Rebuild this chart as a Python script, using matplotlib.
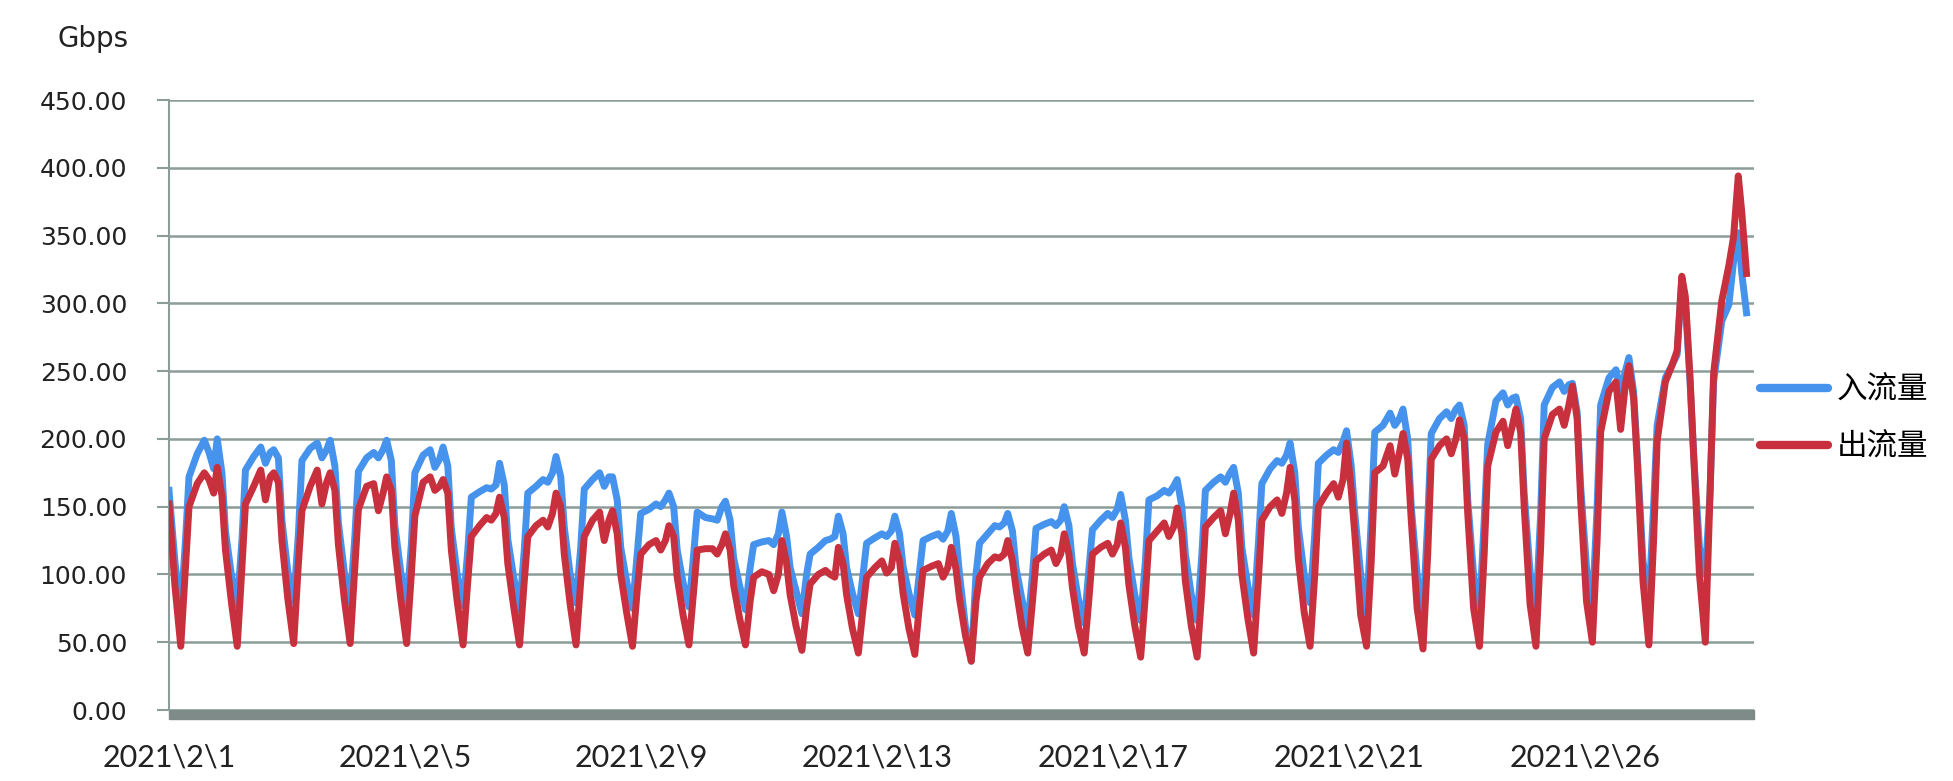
import numpy as np
import matplotlib.pyplot as plt
from matplotlib.lines import Line2D
from matplotlib.patches import Rectangle

# hours of day at which each reading was taken
HOURS = [0, 2.5, 5, 7, 8.5, 12, 15, 17, 19, 20.5, 22.5]

# 出流量 (out), one row per day, Feb 1 .. Feb 28
out_days = [
    [152, 92, 47, 105, 150, 167, 175, 170, 160, 179, 158],
    [118, 80, 47, 105, 152, 165, 177, 155, 172, 175, 168],
    [125, 82, 49, 108, 147, 165, 177, 152, 168, 175, 162],
    [122, 82, 49, 105, 148, 165, 167, 147, 160, 172, 162],
    [120, 82, 49, 100, 143, 168, 172, 162, 165, 170, 160],
    [118, 80, 48, 95, 128, 136, 142, 140, 145, 157, 142],
    [108, 76, 48, 95, 128, 136, 140, 135, 145, 160, 150],
    [115, 78, 48, 95, 128, 140, 146, 125, 140, 147, 130],
    [100, 72, 47, 88, 115, 122, 125, 118, 125, 136, 128],
    [98, 70, 48, 88, 118, 119, 119, 115, 122, 130, 118],
    [92, 68, 48, 80, 98, 102, 100, 88, 100, 125, 108],
    [85, 62, 44, 75, 93, 100, 103, 100, 98, 120, 108],
    [85, 60, 42, 75, 98, 105, 110, 101, 105, 123, 110],
    [86, 60, 41, 78, 103, 106, 108, 98, 105, 120, 104],
    [82, 55, 36, 80, 98, 108, 113, 112, 115, 125, 110],
    [90, 62, 42, 80, 110, 115, 118, 108, 115, 130, 115],
    [90, 62, 42, 82, 115, 120, 123, 115, 122, 138, 120],
    [92, 62, 39, 85, 125, 132, 138, 128, 135, 149, 130],
    [95, 62, 39, 88, 135, 142, 147, 130, 145, 160, 140],
    [100, 68, 42, 95, 140, 150, 155, 145, 160, 179, 155],
    [112, 72, 47, 100, 150, 160, 167, 157, 170, 197, 162],
    [130, 70, 47, 110, 175, 180, 195, 174, 190, 204, 185],
    [140, 75, 45, 115, 185, 195, 200, 189, 200, 214, 200],
    [145, 75, 47, 115, 180, 205, 213, 195, 210, 222, 205],
    [150, 78, 47, 120, 200, 218, 222, 210, 225, 239, 215],
    [155, 80, 50, 125, 205, 235, 242, 207, 240, 254, 230],
    [185, 95, 48, 125, 198, 242, 255, 265, 320, 305, 245],
    [189, 100, 50, 160, 248, 302, 328, 349, 394, 367, 322],
]

# 入流量 (in)
in_days = [
    [162, 110, 72, 125, 172, 189, 199, 190, 178, 200, 175],
    [132, 100, 77, 125, 177, 187, 194, 182, 190, 192, 186],
    [140, 102, 80, 130, 184, 193, 197, 186, 192, 199, 180],
    [138, 102, 79, 128, 176, 186, 190, 186, 192, 199, 184],
    [136, 102, 76, 122, 175, 188, 192, 179, 185, 194, 180],
    [134, 100, 77, 118, 157, 161, 164, 163, 166, 182, 166],
    [126, 98, 74, 118, 160, 165, 170, 168, 175, 187, 172],
    [135, 100, 79, 120, 163, 170, 175, 165, 172, 172, 155],
    [120, 95, 75, 115, 145, 148, 152, 150, 155, 160, 150],
    [118, 94, 76, 115, 146, 142, 141, 140, 150, 154, 140],
    [112, 92, 74, 105, 122, 124, 125, 122, 130, 146, 128],
    [105, 88, 71, 100, 115, 120, 125, 126, 128, 143, 130],
    [105, 86, 71, 100, 123, 127, 130, 128, 132, 143, 130],
    [106, 86, 70, 102, 125, 128, 130, 126, 132, 145, 128],
    [100, 62, 36, 100, 123, 130, 136, 135, 138, 145, 132],
    [105, 82, 61, 100, 134, 137, 139, 136, 140, 150, 136],
    [108, 82, 64, 104, 133, 140, 145, 142, 148, 159, 140],
    [112, 85, 66, 110, 155, 158, 162, 160, 165, 170, 150],
    [115, 85, 66, 115, 162, 168, 172, 168, 175, 179, 160],
    [120, 92, 70, 122, 167, 178, 184, 182, 188, 197, 175],
    [135, 100, 79, 130, 182, 188, 192, 190, 198, 206, 180],
    [145, 100, 70, 140, 205, 210, 219, 210, 215, 222, 200],
    [150, 100, 70, 140, 204, 215, 220, 215, 222, 225, 210],
    [155, 100, 70, 140, 196, 228, 234, 225, 230, 231, 215],
    [160, 102, 73, 145, 225, 238, 242, 235, 240, 241, 220],
    [165, 105, 76, 150, 225, 245, 251, 235, 250, 260, 235],
    [190, 110, 79, 150, 210, 245, 255, 262, 318, 300, 242],
    [189, 120, 100, 160, 242, 287, 299, 331, 352, 322, 293],
]

x_labels = ['2021\\2\\1', '2021\\2\\5', '2021\\2\\9', '2021\\2\\13',
            '2021\\2\\17', '2021\\2\\21', '2021\\2\\26']
label_step = 4.18  # days between category labels

BLUE = '#4593EC'
RED = '#C9303E'
GRID = '#8C9C98'

# time axis in days since Feb 1 00:00
t = np.concatenate([d + np.array(HOURS) / 24.0 for d in range(len(out_days))])
out_vals = np.concatenate(out_days)
in_vals = np.concatenate(in_days)

fig = plt.figure(figsize=(19.53, 7.81), dpi=100)
ax = fig.add_axes([169 / 1953, 71 / 781, 1585 / 1953, 610 / 781])

ax.plot(t, in_vals, color=BLUE, lw=5, solid_joinstyle='round', zorder=3)
ax.plot(t, out_vals, color=RED, lw=5, solid_joinstyle='round', zorder=4)

ax.set_xlim(0, 28.07)
ax.set_ylim(0, 450)
ax.set_yticks(np.arange(0, 451, 50))
ax.yaxis.set_major_formatter(plt.FormatStrFormatter('%.2f'))
ax.yaxis.grid(True, color=GRID, lw=1.8)
ax.set_axisbelow(True)

for s in ['top', 'right', 'bottom']:
    ax.spines[s].set_visible(False)
ax.spines['left'].set_color(GRID)
ax.spines['left'].set_linewidth(1.5)

ax.tick_params(axis='y', length=8.6, width=1.5, color=GRID, pad=21.6,
               labelsize=18, labelcolor='#222222')
ax.set_xticks([i * label_step for i in range(len(x_labels))])
ax.set_xticklabels(x_labels, fontfamily='Lato', fontsize=22, color='#222222')
ax.tick_params(axis='x', length=0, pad=24)

# thick grey floor under the zero line
ax.add_patch(Rectangle((0, -0.014), 1, 0.014, transform=ax.transAxes,
                       color='#7E8B89', clip_on=False, zorder=2))

fig.text(93.5 / 1953, 1 - 47 / 781, 'Gbps', ha='center', va='baseline',
         fontsize=20, color='#222222')

handles = [Line2D([], [], color=BLUE, lw=6, solid_capstyle='round'),
           Line2D([], [], color=RED, lw=6, solid_capstyle='round')]
ax.legend(handles, ['入流量', '出流量'], loc='center left',
          bbox_to_anchor=(1.004, 0.477), frameon=False,
          prop={'family': ['Noto Sans CJK SC', 'DejaVu Sans'], 'size': 22},
          handlelength=2.2, handletextpad=0.3, labelspacing=0.85,
          borderaxespad=0, borderpad=0)

fig.savefig('out.png', dpi=100)
